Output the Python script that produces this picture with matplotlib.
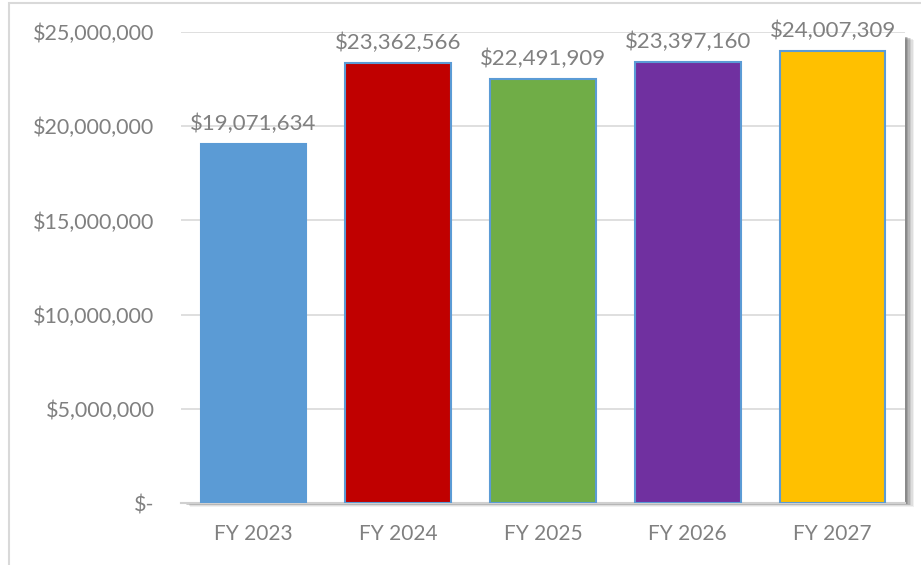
import matplotlib.pyplot as plt
from matplotlib.patches import Rectangle
from matplotlib.ticker import FuncFormatter

# data
years = ['FY 2023', 'FY 2024', 'FY 2025', 'FY 2026', 'FY 2027']
amounts = [19071634, 23362566, 22491909, 23397160, 24007309]
bar_colors = ['#5B9BD5', '#C00000', '#70AD47', '#7030A0', '#FFC000']
y_ticks = [0, 5000000, 10000000, 15000000, 20000000, 25000000]

plt.rcParams['font.family'] = ['Lato', 'DejaVu Sans']
text_gray = '#808080'

fig = plt.figure(figsize=(9.21, 5.65), dpi=100)
W, H = 921, 565

# outer chart frame (light gray)
fig.patches.append(Rectangle((9 / W, -0.1), 1.2, 1 - 3 / H + 0.1, transform=fig.transFigure,
                             fill=False, edgecolor='#D9D9D9', linewidth=1.5, zorder=0))

ax_left, ax_right, ax_top, ax_bottom = 181, 905, 32, 503

# soft shadow behind plot area (right / bottom)
for i, a in enumerate([0.08, 0.10, 0.12, 0.15, 0.18, 0.22]):
    off = 9 - i * 1.4
    fig.patches.append(Rectangle(((ax_left + off) / W, 1 - (ax_bottom + off * 0.4) / H),
                                 (ax_right - ax_left) / W, (ax_bottom - ax_top - 4) / H,
                                 transform=fig.transFigure, facecolor='#404040', alpha=a,
                                 edgecolor='none', zorder=0.5))

ax = fig.add_axes([ax_left / W, 1 - ax_bottom / H, (ax_right - ax_left) / W, (ax_bottom - ax_top) / H])
ax.set_zorder(2)

x = range(len(years))
bars = ax.bar(x, amounts, width=0.73, color=bar_colors, edgecolor='#5B9BD5', linewidth=1.5, zorder=3)

for b, v in zip(bars, amounts):
    ax.annotate(f'${v:,.0f}', (b.get_x() + b.get_width() / 2, v), xytext=(0, 7),
                textcoords='offset points', ha='center', va='bottom', fontsize=16, color=text_gray)

ax.set_xlim(-0.5, len(years) - 0.5)
ax.set_ylim(0, 25000000)
ax.set_yticks(y_ticks)
ax.yaxis.set_major_formatter(FuncFormatter(lambda v, p: '$-' if v == 0 else f'${v:,.0f}'))
ax.set_xticks(list(x))
ax.set_xticklabels(years)
ax.tick_params(axis='y', length=0, pad=19, labelsize=15.5, labelcolor=text_gray)
ax.tick_params(axis='x', length=0, pad=15, labelsize=15, labelcolor=text_gray)

ax.grid(axis='y', color='#D9D9D9', linewidth=1.2, zorder=0)
ax.set_axisbelow(True)
for s in ['left', 'right', 'top']:
    ax.spines[s].set_visible(False)
ax.spines['bottom'].set_color('#D0D0D0')
ax.spines['bottom'].set_linewidth(1.5)
ax.set_facecolor('white')

fig.savefig('out.png', dpi=100, facecolor='white')
